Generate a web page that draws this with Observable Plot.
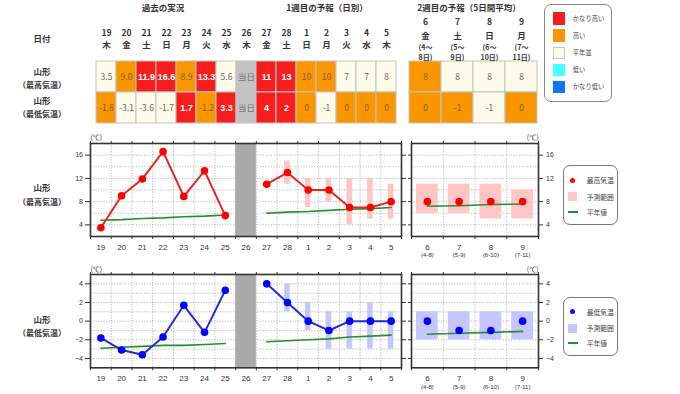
<!DOCTYPE html>
<html><head><meta charset="utf-8">
<script src="https://cdn.jsdelivr.net/npm/d3@7"></script>
<script src="https://cdn.jsdelivr.net/npm/@observablehq/plot@0.6"></script>
<style>
body{margin:0;background:#fff;}
#root{position:relative;width:680px;height:394px;overflow:hidden;background:#fff;}
</style></head><body><div id="root"></div><script>
// ---------------- data ----------------
const station = "山形";
const rowNames = ["（最高気温）", "（最低気温）"];
const titles = ["過去の実況", "1週目の予報（日別）", "2週目の予報（5日間平均）"];
const dateHeader = "日付";
const unitLabel = "(℃)";

const pastDays = ["19","20","21","22","23","24","25"];
const pastWeekdays = ["木","金","土","日","月","火","水"];
const todayDays = ["26"];
const todayWeekdays = ["木"];
const todayLabel = "当日";
const week1Days = ["27","28","1","2","3","4","5"];
const week1Weekdays = ["金","土","日","月","火","水","木"];
const week2Days = ["6","7","8","9"];
const week2Weekdays = ["金","土","日","月"];
const week2Periods = ["(4〜\n8日)","(5〜\n9日)","(6〜\n10日)","(7〜\n11日)"];
const week2AxisPeriods = ["(4-8)","(5-9)","(6-10)","(7-11)"];

const classNames = ["かなり高い","高い","平年並","低い","かなり低い"];
const classColors = ["#f81e1e","#fa9600","#fdfbea","#46ffff","#0a78ff"];
const todayColor = "#c3c3c3";

// maximum temperature
const pastMax = [3.5, 9.0, 11.9, 16.6, 8.9, 13.3, 5.6];
const pastMaxNormal = [4.8, 4.9, 5.1, 5.2, 5.4, 5.5, 5.7];
const pastMaxClass = ["平年並","高い","かなり高い","かなり高い","高い","かなり高い","平年並"];
const w1Max = [11, 13, 10, 10, 7, 7, 8];
const w1MaxLo = [null, 11, 7, 8, 4, 5, 5];
const w1MaxHi = [null, 15, 12, 12, 12, 12, 11];
const w1MaxNormal = [6.0, 6.2, 6.3, 6.5, 6.7, 6.8, 7.0];
const w1MaxClass = ["かなり高い","かなり高い","高い","高い","平年並","平年並","平年並"];
const w2Max = [8, 8, 8, 8];
const w2MaxLo = [6, 6, 5, 5];
const w2MaxHi = [11, 11, 11, 10];
const w2MaxNormal = [7.2, 7.3, 7.5, 7.6];
const w2MaxClass = ["高い","平年並","平年並","平年並"];

// minimum temperature
const pastMin = [-1.8, -3.1, -3.6, -1.7, 1.7, -1.2, 3.3];
const pastMinNormal = [-2.9, -2.8, -2.7, -2.6, -2.6, -2.5, -2.4];
const pastMinClass = ["高い","平年並","平年並","平年並","かなり高い","高い","かなり高い"];
const w1Min = [4, 2, 0, -1, 0, 0, 0];
const w1MinLo = [null, 1, -1, -3, -3, -3, -3];
const w1MinHi = [null, 4, 2, 1, 1, 2, 1];
const w1MinNormal = [-2.2, -2.1, -2.0, -1.9, -1.7, -1.6, -1.5];
const w1MinClass = ["かなり高い","かなり高い","高い","平年並","高い","高い","高い"];
const w2Min = [0, -1, -1, 0];
const w2MinLo = [-2, -2, -2, -2];
const w2MinHi = [1, 1, 1, 1];
const w2MinNormal = [-1.4, -1.3, -1.2, -1.1];
const w2MinClass = ["高い","高い","平年並","高い"];

const maxDomain = [2, 18];
const maxTicks = [4, 8, 12, 16];
const maxGrid = [4, 6, 8, 10, 12, 14, 16];
const minDomain = [-5, 5];
const minTicks = [-4, -2, 0, 2, 4];
const minGrid = [-4, -3, -2, -1, 0, 1, 2, 3, 4];

const legendMaxName = "最高気温";
const legendMinName = "最低気温";
const legendRangeName = "予測範囲";
const legendNormalName = "平年値";

// ---------------- helpers ----------------
const fontJP = '"Noto Sans CJK JP", sans-serif';
const fontNum = '"Liberation Sans", "Noto Sans CJK JP", sans-serif';
const green = "#24902a";
const root = document.getElementById("root");
const classColor = Object.fromEntries(classNames.map((c, i) => [c, classColors[i]]));
classColor[todayLabel] = todayColor;

function put(node, left, top) {
  node.style.position = "absolute";
  node.style.left = left + "px";
  node.style.top = top + "px";
  root.appendChild(node);
  return node;
}
function label(text, cx, cy, size = 8.5, weight = "bold", color = "#333") {
  const d = document.createElement("div");
  d.textContent = text;
  d.style.cssText = `position:absolute;left:${cx}px;top:${cy}px;transform:translate(-50%,-50%);white-space:nowrap;font-family:${fontJP};font-weight:${weight};font-size:${size}px;color:${color};line-height:1;`;
  root.appendChild(d);
}
const baseStyle = {background: "transparent", overflow: "visible", fontFamily: fontNum, color: "#333"};

// ---------------- titles & row labels ----------------
label(titles[0], 163, 7);
label(titles[1], 327, 7);
label(titles[2], 469, 7);
label(dateHeader, 42, 38);
label(station, 42, 71); label(rowNames[0], 42, 84.5, 8);
label(station, 42, 100); label(rowNames[1], 42, 113.5, 8);
label(station, 42, 187); label(rowNames[0], 42, 202, 8);
label(station, 42, 318.5); label(rowNames[1], 42, 333, 8);

// ---------------- tables ----------------
const leftKeys = [...pastDays, ...todayDays, ...week1Days];
const leftWeek = [...pastWeekdays, ...todayWeekdays, ...week1Weekdays];
const leftWeekOf = Object.fromEntries(leftKeys.map((k, i) => [k, leftWeek[i]]));

function rowCells(row, past, pastCls, w1, w1Cls) {
  return [
    ...pastDays.map((k, i) => ({key: k, row, label: past[i].toFixed(1), cls: pastCls[i]})),
    ...todayDays.map(k => ({key: k, row, label: todayLabel, cls: todayLabel})),
    ...week1Days.map((k, i) => ({key: k, row, label: String(w1[i]), cls: w1Cls[i]}))
  ];
}
const leftCells = [
  ...rowCells("max", pastMax, pastMaxClass, w1Max, w1MaxClass),
  ...rowCells("min", pastMin, pastMinClass, w1Min, w1MinClass)
];
const rightCells = [
  ...week2Days.map((k, i) => ({key: k, row: "max", label: String(w2Max[i]), cls: w2MaxClass[i]})),
  ...week2Days.map((k, i) => ({key: k, row: "min", label: String(w2Min[i]), cls: w2MinClass[i]}))
];
const textColor = c => c === "高い" ? "#7a6038" : c === todayLabel ? "#777" : "#666";

function cellMarks(cells) {
  return [
    Plot.cell(cells, {x: "key", y: "row", fill: d => classColor[d.cls], stroke: "#c4c4c4", strokeWidth: 1}),
    Plot.text(cells.filter(d => d.cls !== "かなり高い"), {x: "key", y: "row", text: "label", fill: d => textColor(d.cls), fontSize: 8.5, fontFamily: fontJP}),
    Plot.text(cells.filter(d => d.cls === "かなり高い"), {x: "key", y: "row", text: "label", fill: "white", fontWeight: "bold", fontSize: 9, fontFamily: fontNum})
  ];
}

put(Plot.plot({
  width: 410, height: 130, marginLeft: 90, marginRight: 9, marginTop: 61, marginBottom: 6.7,
  x: {type: "band", domain: leftKeys, padding: 0, label: null},
  y: {type: "band", domain: ["max", "min"], padding: 0, axis: null, label: null},
  style: baseStyle,
  marks: [
    ...cellMarks(leftCells),
    Plot.axisX({anchor: "top", label: null, tickSize: 0, tickPadding: 14, tickFormat: k => k + "\n" + leftWeekOf[k],
      fontSize: 8.5, fontWeight: "bold", lineHeight: 1.35, fontFamily: fontJP, fill: "#333"})
  ]
}), 0, 0);

const w2WeekOf = Object.fromEntries(week2Days.map((k, i) => [k, week2Weekdays[i]]));
const w2PeriodOf = Object.fromEntries(week2Days.map((k, i) => [k, week2Periods[i]]));
put(Plot.plot({
  width: 145, height: 130, marginLeft: 8.5, marginRight: 8, marginTop: 61, marginBottom: 6.7,
  x: {type: "band", domain: week2Days, padding: 0, label: null},
  y: {type: "band", domain: ["max", "min"], padding: 0, axis: null, label: null},
  style: baseStyle,
  marks: [
    ...cellMarks(rightCells),
    Plot.axisX({anchor: "top", label: null, tickSize: 0, tickPadding: 23, tickFormat: k => k + "\n" + w2WeekOf[k],
      fontSize: 8.5, fontWeight: "bold", lineHeight: 1.55, fontFamily: fontJP, fill: "#333"}),
    Plot.axisX({anchor: "top", label: null, tickSize: 0, tickPadding: 1.5, tickFormat: k => w2PeriodOf[k],
      fontSize: 7, fontWeight: "bold", lineHeight: 1.45, fontFamily: fontJP, fill: "#333"})
  ]
}), 400, 0);

// ---------------- charts ----------------
const gridStyle = {stroke: "#a8a8a8", strokeOpacity: 1, strokeDasharray: "1.2,1.5", strokeWidth: 0.8};

function leftChart(o) {
  const n = leftKeys.length;
  const idx = d3.range(n);
  const edges = d3.range(n + 1).map(i => i - 0.5);
  const inner = edges.slice(1, -1);
  const off = pastDays.length + todayDays.length;
  const pastData = o.past.map((v, i) => ({i, v}));
  const pastNorm = o.pastNormal.map((v, i) => ({i, v}));
  const w1Data = o.w1.map((v, j) => ({i: j + off, v}));
  const w1Norm = o.w1Normal.map((v, j) => ({i: j + off, v}));
  const ranges = o.w1Lo.map((lo, j) => ({i: j + off, lo, hi: o.w1Hi[j]})).filter(d => d.lo != null);
  const today = todayDays.map((_, k) => pastDays.length + k);
  return Plot.plot({
    width: 410, height: o.height, marginLeft: 90, marginRight: 9, marginTop: o.mt, marginBottom: o.mb,
    x: {domain: [-0.5, n - 0.5], label: null},
    y: {domain: o.domain, label: null},
    style: baseStyle,
    marks: [
      Plot.gridY(o.grid, gridStyle),
      Plot.gridX(inner, gridStyle),
      Plot.rect(today, {x1: i => i - 0.5, x2: i => i + 0.5, fill: "#a9a9a9"}),
      Plot.rect(ranges, {x1: d => d.i - 0.5, x2: d => d.i + 0.5, y1: "lo", y2: "hi", insetLeft: 7.6, insetRight: 7.6, fill: o.rangeColor}),
      Plot.line(pastNorm, {x: "i", y: "v", stroke: green, strokeWidth: 1.6}),
      Plot.line(w1Norm, {x: "i", y: "v", stroke: green, strokeWidth: 1.6}),
      Plot.line(pastData, {x: "i", y: "v", stroke: o.lineColor, strokeWidth: 2}),
      Plot.line(w1Data, {x: "i", y: "v", stroke: o.lineColor, strokeWidth: 2}),
      Plot.dot(pastData, {x: "i", y: "v", r: 3.8, fill: o.dotColor}),
      Plot.dot(w1Data, {x: "i", y: "v", r: 3.8, fill: o.dotColor}),
      Plot.frame({stroke: "#333", strokeWidth: 1.6}),
      Plot.axisY(o.ticks, {anchor: "left", label: null, tickSize: 5, tickPadding: 2.5, fontSize: 7, fill: "#333"}),
      Plot.axisY(o.ticks, {anchor: "right", label: null, tickSize: 4, tickFormat: () => ""}),
      Plot.axisX(idx, {anchor: "bottom", label: null, tickSize: 0, tickPadding: o.xPad, tickFormat: i => leftKeys[i], fontSize: 8, fill: "#333"}),
      Plot.axisX(edges, {anchor: "bottom", label: null, tickSize: 3, tickFormat: () => ""}),
      Plot.axisX(edges, {anchor: "top", label: null, tickSize: 3, tickFormat: () => ""}),
      Plot.text([unitLabel], {text: d => d, frameAnchor: "top-left", dy: o.unitDy, fontSize: 7, fill: "#333", fontFamily: fontJP})
    ]
  });
}

function rightChart(o) {
  const n = week2Days.length;
  const idx = d3.range(n);
  const edges = d3.range(n + 1).map(i => i - 0.5);
  const inner = edges.slice(1, -1);
  const data = o.vals.map((v, i) => ({i, v}));
  const norm = o.normal.map((v, i) => ({i, v}));
  const ranges = o.lo.map((lo, i) => ({i, lo, hi: o.hi[i]}));
  return Plot.plot({
    width: 160, height: o.height, marginLeft: 11, marginRight: 22, marginTop: o.mt, marginBottom: o.mb,
    x: {domain: [-0.5, n - 0.5], label: null},
    y: {domain: o.domain, label: null},
    style: baseStyle,
    marks: [
      Plot.gridY(o.grid, gridStyle),
      Plot.gridX(inner, gridStyle),
      Plot.rect(ranges, {x1: d => d.i - 0.5, x2: d => d.i + 0.5, y1: "lo", y2: "hi", insetLeft: 5, insetRight: 5, fill: o.rangeColor}),
      Plot.line(norm, {x: "i", y: "v", stroke: green, strokeWidth: 1.6}),
      Plot.dot(data, {x: "i", y: "v", r: 3.8, fill: o.dotColor}),
      Plot.frame({stroke: "#333", strokeWidth: 1.6}),
      Plot.axisY(o.ticks, {anchor: "right", label: null, tickSize: 4, tickPadding: 3.5, fontSize: 7, fill: "#333"}),
      Plot.axisY(o.ticks, {anchor: "left", label: null, tickSize: 3, tickFormat: () => ""}),
      Plot.axisX(idx, {anchor: "bottom", label: null, tickSize: 0, tickPadding: o.xPad, tickFormat: i => week2Days[i], fontSize: 8, fill: "#333"}),
      Plot.axisX(idx, {anchor: "bottom", label: null, tickSize: 0, tickPadding: o.subPad, tickFormat: i => week2AxisPeriods[i], fontSize: 6, fill: "#333"}),
      Plot.axisX(edges, {anchor: "bottom", label: null, tickSize: 3, tickFormat: () => ""}),
      Plot.axisX(edges, {anchor: "top", label: null, tickSize: 3, tickFormat: () => ""}),
      Plot.text([unitLabel], {text: d => d, frameAnchor: "top-right", dy: o.unitDy, fontSize: 7, fill: "#333", fontFamily: fontJP})
    ]
  });
}

const topCfg = {height: 135, mt: 18, mb: 24, domain: maxDomain, ticks: maxTicks, grid: maxGrid, xPad: 7.8, subPad: 16, unitDy: -8,
  lineColor: "#e42626", dotColor: "#ff0000", rangeColor: "#ffc6c6"};
const botCfg = {height: 139, mt: 19, mb: 26.7, domain: minDomain, ticks: minTicks, grid: minGrid, xPad: 7.5, subPad: 16.5, unitDy: -7.5,
  lineColor: "#2a2ad2", dotColor: "#0000ff", rangeColor: "#c6c6ff"};

put(leftChart({...topCfg, past: pastMax, pastNormal: pastMaxNormal, w1: w1Max, w1Lo: w1MaxLo, w1Hi: w1MaxHi, w1Normal: w1MaxNormal}), 0, 125);
put(rightChart({...topCfg, vals: w2Max, lo: w2MaxLo, hi: w2MaxHi, normal: w2MaxNormal}), 400, 125);
put(leftChart({...botCfg, past: pastMin, pastNormal: pastMinNormal, w1: w1Min, w1Lo: w1MinLo, w1Hi: w1MinHi, w1Normal: w1MinNormal}), 0, 255);
put(rightChart({...botCfg, vals: w2Min, lo: w2MinLo, hi: w2MinHi, normal: w2MinNormal}), 400, 255);

// ---------------- legends ----------------
function chartLegend(top, height, dotColor, rangeColor, seriesName) {
  const box = document.createElement("div");
  box.style.cssText = `position:absolute;left:562.7px;top:${top}px;width:55.6px;height:${height}px;border:1px solid #777;border-radius:7px;background:#fff;box-sizing:border-box;`;
  const rows = [seriesName, legendRangeName, legendNormalName];
  const ys = [14, 30.5, 45.5];
  rows.forEach((name, k) => {
    const sym = document.createElement("div");
    if (k === 0) sym.style.cssText = `position:absolute;left:6.5px;top:${ys[k] - 2.5}px;width:5px;height:5px;border-radius:50%;background:${dotColor};`;
    if (k === 1) sym.style.cssText = `position:absolute;left:4.5px;top:${ys[k] - 4.5}px;width:9px;height:9px;background:${rangeColor};`;
    if (k === 2) sym.style.cssText = `position:absolute;left:4.5px;top:${ys[k] - 1}px;width:9.5px;height:2px;background:${green};`;
    box.appendChild(sym);
    const t = document.createElement("div");
    t.textContent = name;
    t.style.cssText = `position:absolute;left:23px;top:${ys[k]}px;transform:translateY(-50%);font-family:${fontJP};font-size:6.8px;color:#444;line-height:1;white-space:nowrap;`;
    box.appendChild(t);
  });
  root.appendChild(box);
}
chartLegend(165, 60, "#ff0000", "#ffc6c6", legendMaxName);
chartLegend(296.7, 59, "#0000ff", "#c6c6ff", legendMinName);

(function colorLegend() {
  const box = document.createElement("div");
  box.style.cssText = `position:absolute;left:544.3px;top:4px;width:68px;height:97.7px;border:1px solid #888;border-radius:7px;background:#fff;box-sizing:border-box;`;
  classNames.forEach((name, k) => {
    const cy = 13.5 + k * 17.1;
    const sw = document.createElement("div");
    sw.style.cssText = `position:absolute;left:7.5px;top:${cy - 6.2}px;width:12.4px;height:12.4px;background:${classColors[k]};box-sizing:border-box;${k === 2 ? "border:1px solid #c8c8c8;" : ""}`;
    box.appendChild(sw);
    const t = document.createElement("div");
    t.textContent = name;
    t.style.cssText = `position:absolute;left:27.5px;top:${cy}px;transform:translateY(-50%);font-family:${fontJP};font-size:6.3px;color:#444;line-height:1;white-space:nowrap;`;
    box.appendChild(t);
  });
  root.appendChild(box);
})();
</script></body></html>
